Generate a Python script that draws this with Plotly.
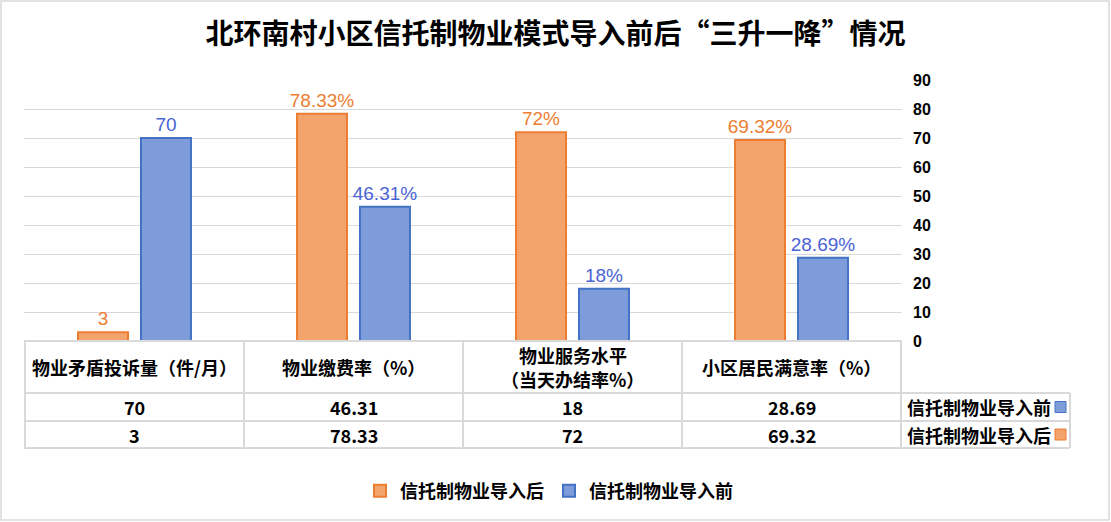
import plotly.graph_objects as go

# ---------------- data ----------------
categories = ["物业矛盾投诉量（件/月）", "物业缴费率（%）", "物业服务水平（当天办结率%）", "小区居民满意率（%）"]
header_lines = [["物业矛盾投诉量（件/月）"], ["物业缴费率（%）"], ["物业服务水平", "（当天办结率%）"], ["小区居民满意率（%）"]]
series_names = ["信托制物业导入后", "信托制物业导入前"]
after_values = [3, 78.33, 72, 69.32]
before_values = [70, 46.31, 18, 28.69]
percent_flags = [False, True, True, True]
y_ticks = [0, 10, 20, 30, 40, 50, 60, 70, 80, 90]
title_text = "北环南村小区信托制物业模式导入前后“三升一降”情况"

# ---------------- style ----------------
W, H = 1111, 522
L, R, T, B = 24, 902, 80, 341
CJK = "Noto Sans CJK SC"
GRID = "#D9D9D9"
OR_FILL, OR_LINE, OR_TXT = "#F2A46C", "#ED7D31", "#ED7D31"
BL_FILL, BL_LINE, BL_TXT = "#7E9CDA", "#4472C4", "#4A63D3"
TBL_FONT = dict(family=CJK, size=18, color="black", weight="bold")


def px_x(p):
    return (p - L) / (R - L)


def px_y(p):
    return (B - p) / (B - T)


def labels(vals):
    return [f"{v:g}%" if pf else f"{v:g}" for v, pf in zip(vals, percent_flags)]


fig = go.Figure()
for name, vals, fill, line, tcol in [
    (series_names[0], after_values, OR_FILL, OR_LINE, OR_TXT),
    (series_names[1], before_values, BL_FILL, BL_LINE, BL_TXT),
]:
    fig.add_trace(go.Bar(
        x=categories, y=vals, name=name,
        marker=dict(color=fill, line=dict(color=line, width=2)),
        text=labels(vals), textposition="outside", constraintext="none",
        cliponaxis=False,
        textfont=dict(family="Liberation Sans", size=19, color=tcol),
        hoverinfo="skip",
    ))

shapes = []
ann = []
line_style = dict(color=GRID, width=2)

# table horizontal lines
shapes.append(dict(type="line", xref="paper", yref="paper", x0=px_x(L), x1=px_x(R),
                   y0=px_y(B), y1=px_y(B), line=line_style, layer="above"))
for py in [393, 421, 448]:
    shapes.append(dict(type="line", xref="paper", yref="paper", x0=px_x(L), x1=px_x(1070),
                       y0=px_y(py), y1=px_y(py), line=line_style))
# table vertical lines at category boundaries
for i in range(len(categories) + 1):
    shapes.append(dict(type="line", xref="x", yref="paper", x0=i - 0.5, x1=i - 0.5,
                       y0=px_y(B), y1=px_y(448), line=line_style))
shapes.append(dict(type="line", xref="paper", yref="paper", x0=px_x(1070), x1=px_x(1070),
                   y0=px_y(393), y1=px_y(448), line=line_style))

# category headers and values
for i, c in enumerate(categories):
    lines = header_lines[i]
    if len(lines) == 1:
        ys = [367]
    else:
        ys = [355, 379]
    for txt, py in zip(lines, ys):
        ann.append(dict(xref="x", yref="paper", x=c, y=px_y(py), text=txt, showarrow=False,
                        font=TBL_FONT, xanchor="center", yanchor="middle"))
    ann.append(dict(xref="x", yref="paper", x=c, y=px_y(407), text=f"{before_values[i]:g}",
                    showarrow=False, font=TBL_FONT, xanchor="center", yanchor="middle"))
    ann.append(dict(xref="x", yref="paper", x=c, y=px_y(434.5), text=f"{after_values[i]:g}",
                    showarrow=False, font=TBL_FONT, xanchor="center", yanchor="middle"))

# row labels with key squares
for name, py, fill, line in [(series_names[1], 407, BL_FILL, BL_LINE),
                             (series_names[0], 434.5, OR_FILL, OR_LINE)]:
    ann.append(dict(xref="paper", yref="paper", x=px_x(1053), y=px_y(py), text=name,
                    showarrow=False, font=TBL_FONT, xanchor="right", yanchor="middle"))
    shapes.append(dict(type="rect", xref="paper", yref="paper", x0=px_x(1055), x1=px_x(1066),
                       y0=px_y(py - 5.5), y1=px_y(py + 5.5), fillcolor=fill,
                       line=dict(color=line, width=1)))

# outer frame
shapes.append(dict(type="rect", xref="paper", yref="paper", x0=px_x(1), x1=px_x(1109),
                   y0=px_y(1), y1=px_y(520), line=dict(color=GRID, width=1.5)))

fig.update_layout(
    width=W, height=H,
    margin=dict(l=L, r=W - R, t=T, b=H - B, autoexpand=False),
    paper_bgcolor="white", plot_bgcolor="white",
    title=dict(text=title_text, x=0.5, xref="container", xanchor="center",
               y=1 - 34 / H, yref="container", yanchor="middle",
               font=dict(family=CJK, size=28, color="black", weight="bold")),
    barmode="group", bargap=0.425, bargroupgap=0.206,
    xaxis=dict(showticklabels=False, showgrid=False, zeroline=False, showline=False,
               ticks="", automargin=False),
    yaxis=dict(range=[0, 90], tickvals=y_ticks, side="right", showgrid=True,
               gridcolor=GRID, gridwidth=1, zeroline=False, showline=False, ticks="",
               ticklabelstandoff=10, automargin=False,
               tickfont=dict(family="Liberation Sans", size=16, color="black", weight="bold")),
    legend=dict(orientation="h", x=px_x(549), xanchor="center", y=px_y(491), yanchor="middle",
                font=dict(family=CJK, size=18, color="black", weight="bold"),
                bgcolor="rgba(0,0,0,0)", traceorder="normal"),
    shapes=shapes, annotations=ann, showlegend=True,
)

fig.write_html("out.html", config={"displayModeBar": False},
               post_script="document.body.style.margin='0';document.body.style.overflow='hidden';")
